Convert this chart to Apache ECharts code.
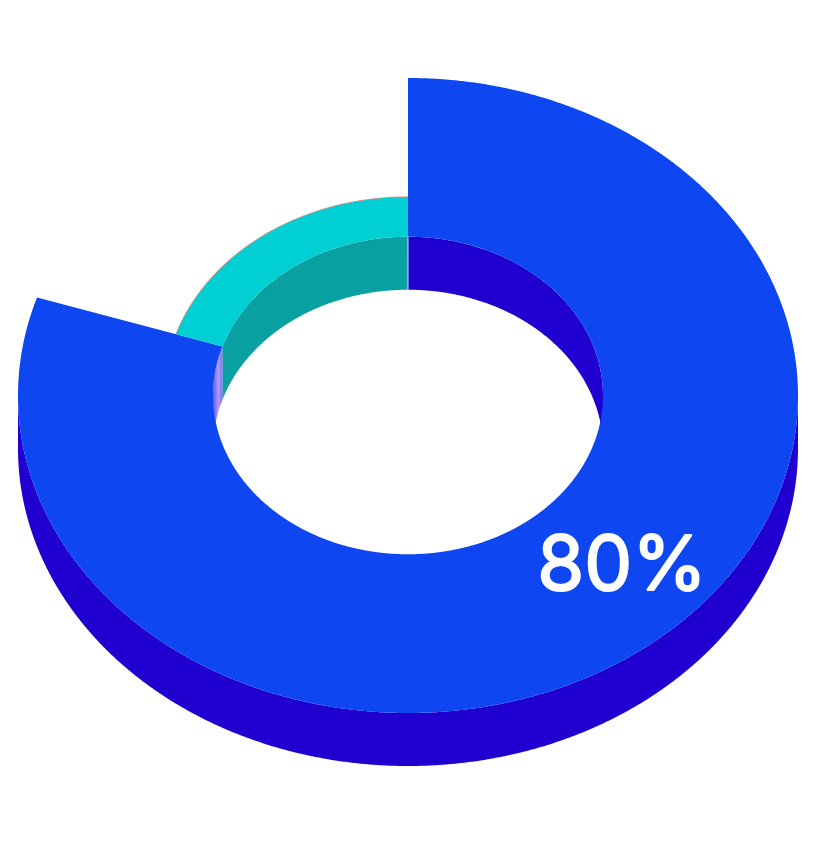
<!DOCTYPE html>
<html>
<head>
<meta charset="utf-8">
<style>html,body{margin:0;padding:0;background:#fff}#c{width:816px;height:844px}</style>
<script src="https://cdn.jsdelivr.net/npm/echarts@6/dist/echarts.min.js"></script>
</head>
<body>
<div id="c"></div>
<script>
// --- data ---
const categories = ['Share', 'Rest'];
const values = [80, 20];
const labelText = '80%';

// --- look (radii in axis units, 100 = outer rim half-width) ---
const SLICE_RADIUS = [100, 62.5];
const INNER_RADIUS = 50;
const TILT = 317.5 / 390;
const DEPTH = 53 / 3.9;
const SEAM = 0.12;
const COL = {
  top: ['#0E47F2', '#00CFD3'],
  wall: ['#2000D0', '#08A0A0'],
  edge: '#F58A80'
};

const total = values.reduce((a, b) => a + b, 0);
const starts = values.map((v, i) => values.slice(0, i).reduce((a, b) => a + b, 0) / total * 360);

function pt(api, r, deg, drop) {
  const a = deg * Math.PI / 180;
  return api.coord([r * Math.sin(a), r * Math.cos(a) * TILT - (drop || 0)]);
}
function arc(api, r, from, to, drop) {
  const pts = [];
  const steps = Math.max(2, Math.ceil(Math.abs(to - from) * 4));
  for (let i = 0; i <= steps; i++) pts.push(pt(api, r, from + (to - from) * i / steps, drop));
  return pts;
}
const poly = (points, style, z2) => ({ type: 'polygon', z2, shape: { points }, style });
const band = (api, r, from, to, style, z2) =>
  poly(arc(api, r, from, to, 0).concat(arc(api, r, to, from, DEPTH)), style, z2);

function renderItem(params, api) {
  const i = params.dataIndex;
  const from = starts[i];
  const to = from + values[i] / total * 360;
  const R = SLICE_RADIUS[i];
  const kids = [];
  const clip = (a, b) => [Math.max(a, from), Math.min(b, to)];
  // outer wall: only the front half can be seen
  if (i === 0) {
    const [a, b] = clip(90, 270);
    kids.push(band(api, R, a, b, { fill: COL.wall[i] }, 1));
  }
  // inner wall: only the back half can be seen
  [[0, 90], [270, 360]].forEach(([p, q]) => {
    const [a, b] = clip(p, q);
    if (b <= a) return;
    const lit = p === 270 && i === 0;
    const p0 = pt(api, INNER_RADIUS, 270)[0];
    const p1 = pt(api, INNER_RADIUS, 288)[0];
    const seamA = (a === 0) ? SEAM : 0;
    const seamB = (b === 360) ? SEAM : 0;
    kids.push(band(api, INNER_RADIUS, a + seamA, b - seamB, {
      fill: lit ? new echarts.graphic.LinearGradient(p0, 0, p1, 0, [
        { offset: 0, color: '#6458FF' },
        { offset: 0.55, color: '#B09CFF' },
        { offset: 1, color: '#8468FF' }
      ], true) : COL.wall[i]
    }, 2));
  });
  // top face
  if (i === 1) {
    kids.push({ type: 'polyline', z2: 3, shape: { points: arc(api, R, from, to, 0) },
      style: { fill: null, stroke: COL.edge, lineWidth: 1.4 } });
  }
  kids.push(poly(arc(api, R, from, to).concat(arc(api, INNER_RADIUS, to, from)), { fill: COL.top[i] }, 4));
  return { type: 'group', children: kids };
}

const chart = echarts.init(document.getElementById('c'), null, { renderer: 'canvas' });
chart.setOption({
  animation: false,
  backgroundColor: '#fff',
  grid: { left: 18, top: 78, width: 780, height: 635, containLabel: false },
  xAxis: { type: 'value', min: -100, max: 100, show: false },
  yAxis: { type: 'value', min: -100 * TILT, max: 100 * TILT, show: false },
  series: [
    {
      type: 'custom',
      coordinateSystem: 'cartesian2d',
      renderItem,
      clip: false,
      silent: true,
      z: 1,
      data: categories.map((c, i) => ({ name: c, value: [0, 0, values[i]] }))
    },
    {
      type: 'scatter',
      symbolSize: 0,
      silent: true,
      z: 2,
      itemStyle: { opacity: 1 },
      data: [{ value: [54.9, -44.1], name: labelText }],
      label: {
        show: true, position: 'inside', formatter: labelText, opacity: 1,
        color: '#ffffff', fontFamily: 'Inter', fontSize: 76, fontWeight: 400,
        textBorderColor: '#ffffff', textBorderWidth: 2
      }
    }
  ]
});
</script>
</body>
</html>
